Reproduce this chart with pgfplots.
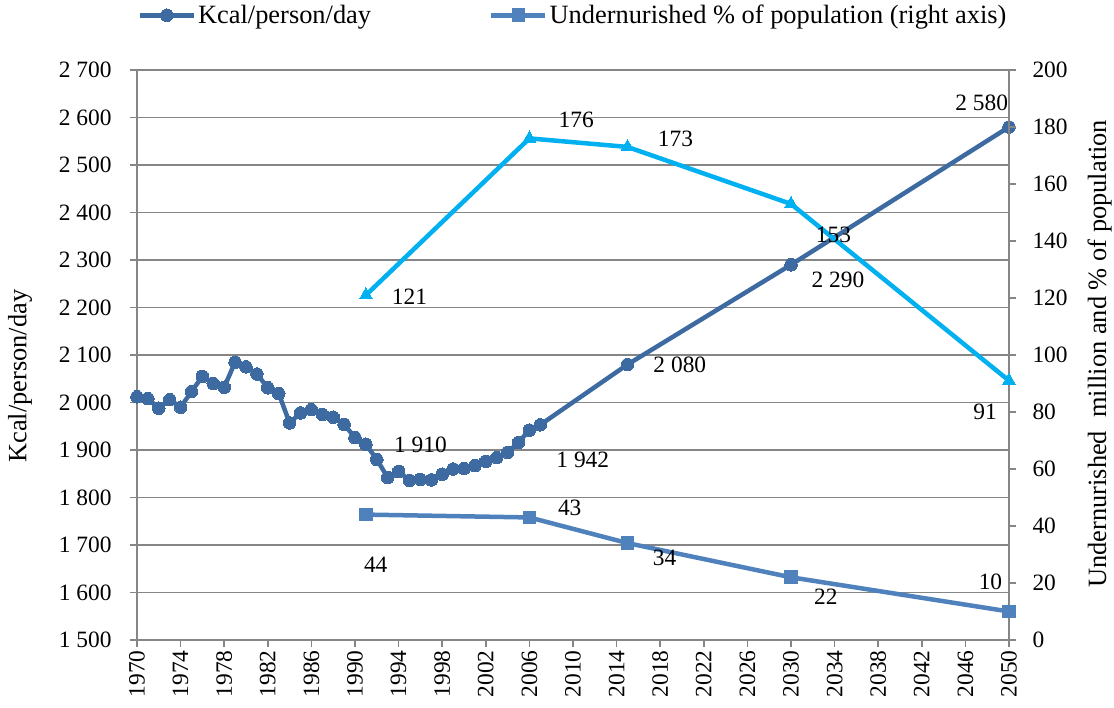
\documentclass[border=0pt]{standalone}
\usepackage{pgfplots}
\pgfplotsset{compat=1.18}
\usepackage{fontspec}
\setmainfont{Liberation Serif}
\definecolor{kc}{RGB}{61,106,161}
\definecolor{pc}{RGB}{79,129,189}
\definecolor{mc}{RGB}{0,176,240}
\definecolor{gr}{RGB}{134,134,134}
\newcommand{\tf}{\fontsize{23.5}{27}\selectfont}
\begin{document}
\begin{tikzpicture}
\pgfplotsset{
 base/.style={scale only axis, width=872bp, height=570bp, xmin=1970, xmax=2050,
   /pgf/number format/assume math mode=true,
   tick label style={font=\tf},
   axis line style={gr, line width=1.5bp},
   major tick style={gr, line width=1.5bp},
   minor tick style={gr, line width=1.5bp},
   tick align=outside,
   major tick length=7bp, minor tick length=7bp,
   clip=false, scaled ticks=false,
 },
 legend image code/.code={\draw[mark repeat=2,mark phase=2,#1] plot coordinates {(0bp,0bp) (27bp,0bp) (54bp,0bp)};},
}
\begin{axis}[base,
  ymin=1500, ymax=2700, ytick={1500,1600,...,2700},
  axis y line*=left, axis x line*=bottom,
  xtick={1970,1974,...,2050}, minor x tick num=3,
  x tick label style={rotate=90, anchor=east, /pgf/number format/1000 sep={}},
  y tick label style={/pgf/number format/1000 sep={\ }, xshift=-15bp},
  ymajorgrids, grid style={gr, line width=1.5bp},
  ylabel={Kcal/person/day},
  ylabel style={font=\fontsize{26.5}{30}\selectfont, at={(axis description cs:-0.134,0.463)}, anchor=center},
]
\addplot[kc, line width=4.5bp, mark=*, mark size=6.3bp, mark options={fill=kc, draw=kc, line width=0bp}] coordinates {
(1970,2012) (1971,2008) (1972,1988) (1973,2006) (1974,1990) (1975,2023) (1976,2055) (1977,2040) (1978,2032) (1979,2085)
(1980,2075) (1981,2060) (1982,2031) (1983,2019) (1984,1957) (1985,1978) (1986,1985) (1987,1975) (1988,1969) (1989,1954)
(1990,1926) (1991,1912) (1992,1880) (1993,1842) (1994,1855) (1995,1836) (1996,1838) (1997,1837) (1998,1849) (1999,1860)
(2000,1861) (2001,1867) (2002,1876) (2003,1884) (2004,1895) (2005,1916) (2006,1942) (2007,1953)
(2015,2080) (2030,2290) (2050,2580)};
\node[font=\tf] at (axis cs:2047.5,2630) {2\ 580};
\node[font=\tf] at (axis cs:2034.3,2258) {2\ 290};
\node[font=\tf] at (axis cs:2019.8,2079) {2\ 080};
\node[font=\tf] at (axis cs:2010.9,1879) {1\ 942};
\node[font=\tf] at (axis cs:1996,1910) {1\ 910};
\end{axis}
\begin{axis}[base,
  ymin=0, ymax=200, ytick={0,20,...,200},
  axis y line*=right, axis x line=none,
  y tick label style={anchor=west, xshift=13bp},
  ylabel={Undernurished\ \ million and \% of population},
  ylabel style={font=\fontsize{26.5}{30}\selectfont, at={(axis description cs:1.104,0.502)}, anchor=center},
  legend style={at={(axis description cs:0.5,1.096)}, anchor=center, draw=none, fill=none,
     font=\fontsize{26.5}{30}\selectfont, legend columns=2,
     /tikz/every even column/.append style={column sep=116bp}},
]
\addlegendimage{kc, line width=4.5bp, mark=*, mark size=6.3bp, mark options={fill=kc, draw=kc, line width=0bp}}
\addlegendentry{Kcal/person/day}
\addplot[pc, line width=4.5bp, mark=square*, mark size=6.3bp, mark options={fill=pc, draw=pc, line width=0bp}] coordinates {
(1991,44) (2006,43) (2015,34) (2030,22) (2050,10)};
\addlegendentry{Undernurished \% of population (right axis)}
\addplot[mc, line width=4.5bp, mark=triangle*, mark size=7.5bp, mark options={fill=mc, draw=mc, line width=0bp}, forget plot] coordinates {
(1991,121) (2006,176) (2015,173) (2030,153) (2050,91)};
\node[font=\tf] at (axis cs:2010.3,182.5) {176};
\node[font=\tf] at (axis cs:2019.4,175.8) {173};
\node[font=\tf] at (axis cs:2033.9,142.1) {153};
\node[font=\tf] at (axis cs:1995,120.4) {121};
\node[font=\tf] at (axis cs:2047.8,80) {91};
\node[font=\tf] at (axis cs:2009.7,46.3) {43};
\node[font=\tf] at (axis cs:1991.9,26.3) {44};
\node[font=\tf] at (axis cs:2018.4,28.8) {34};
\node[font=\tf] at (axis cs:2033.2,15.1) {22};
\node[font=\tf] at (axis cs:2048.3,20.4) {10};
\end{axis}
\pgfresetboundingbox
\path[use as bounding box] (-137bp,-68bp) rectangle (977bp,640bp);
\end{tikzpicture}
\end{document}
